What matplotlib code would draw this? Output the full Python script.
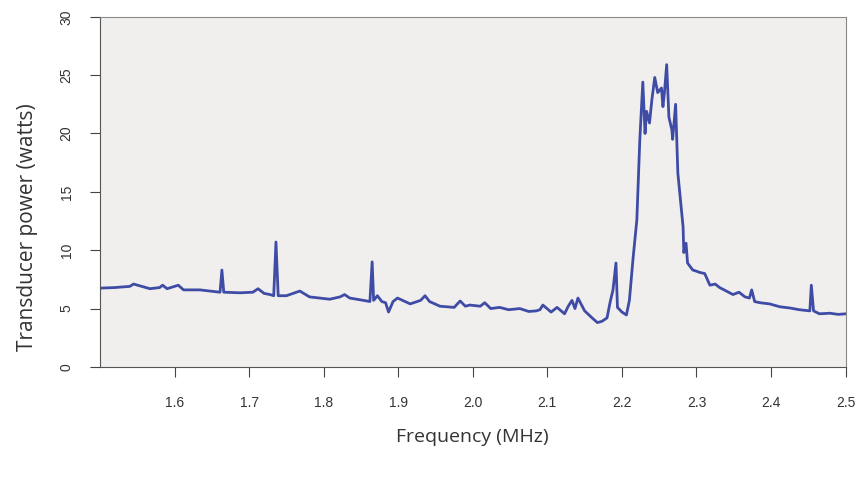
import matplotlib
matplotlib.use("Agg")
import matplotlib.pyplot as plt

# spectrum
freq = [1.500, 1.520, 1.540, 1.545, 1.567, 1.580, 1.584, 1.590, 1.605, 1.612, 1.634,
        1.654, 1.661, 1.6635, 1.666, 1.688, 1.705, 1.712, 1.720, 1.728,
        1.733, 1.736, 1.739, 1.750, 1.768, 1.781, 1.808, 1.822, 1.828, 1.835, 1.849,
        1.862, 1.865, 1.867, 1.872, 1.878, 1.883, 1.887, 1.893, 1.899, 1.916, 1.930,
        1.936, 1.942, 1.956, 1.975, 1.983, 1.990, 1.996, 2.010, 2.016, 2.024, 2.036,
        2.048, 2.063, 2.075, 2.085, 2.090, 2.094, 2.105, 2.113, 2.123, 2.128, 2.133,
        2.137, 2.141, 2.150, 2.160, 2.167, 2.173, 2.180, 2.184, 2.188, 2.192, 2.194,
        2.200, 2.206, 2.210, 2.215, 2.220, 2.224, 2.228, 2.231, 2.233, 2.237, 2.240,
        2.244, 2.248, 2.253, 2.255, 2.257, 2.260, 2.263, 2.267, 2.268, 2.272, 2.275,
        2.282, 2.283, 2.286, 2.288, 2.295, 2.300, 2.304, 2.311, 2.318, 2.325, 2.331,
        2.340, 2.349, 2.357, 2.365, 2.371, 2.374, 2.378, 2.385, 2.398, 2.412, 2.425,
        2.438, 2.452, 2.454, 2.457, 2.465, 2.479, 2.490, 2.500]
power = [6.75, 6.8, 6.9, 7.1, 6.7, 6.8, 7.0, 6.7, 7.0, 6.6, 6.6,
         6.45, 6.4, 8.3, 6.4, 6.35, 6.4, 6.7, 6.3, 6.2,
         6.1, 10.7, 6.1, 6.1, 6.5, 6.0, 5.8, 6.0, 6.2, 5.9, 5.75,
         5.6, 9.0, 5.7, 6.1, 5.6, 5.5, 4.7, 5.6, 5.9, 5.4, 5.7,
         6.1, 5.6, 5.2, 5.1, 5.65, 5.2, 5.3, 5.2, 5.5, 5.0, 5.1,
         4.9, 5.0, 4.75, 4.8, 4.9, 5.3, 4.7, 5.1, 4.55, 5.2, 5.7,
         5.0, 5.9, 4.8, 4.2, 3.8, 3.9, 4.2, 5.5, 6.6, 8.9, 5.1,
         4.7, 4.45, 5.7, 9.35, 12.6, 19.5, 24.4, 20.0, 21.9, 20.9, 22.8,
         24.8, 23.5, 23.9, 22.3, 23.5, 25.9, 21.4, 20.3, 19.5, 22.5, 16.6,
         12.0, 9.8, 10.6, 8.9, 8.3, 8.2, 8.1, 8.0, 7.0, 7.1, 6.8,
         6.5, 6.2, 6.4, 6.0, 5.9, 6.6, 5.6, 5.5, 5.4, 5.15, 5.05,
         4.9, 4.8, 7.0, 4.8, 4.55, 4.6, 4.5, 4.55]

xticks = [1.6, 1.7, 1.8, 1.9, 2.0, 2.1, 2.2, 2.3, 2.4, 2.5]
yticks = [0, 5, 10, 15, 20, 25, 30]

fig = plt.figure(figsize=(8.62, 4.79), dpi=100)
ax = fig.add_axes([0.116, 0.234, 0.865, 0.731])
ax.set_facecolor('#f1efed')

ax.plot(freq, power, color='#3f4ca6', linewidth=2.0)

ax.set_xlim(1.5, 2.5)
ax.set_ylim(0, 30)
ax.set_xticks(xticks)
ax.set_xticklabels([f'{t:.1f}' for t in xticks], fontsize=10, color='#333333',
                   family='Liberation Sans')
ax.set_yticks(yticks)
ax.set_yticklabels([str(t) for t in yticks], fontsize=10, color='#333333',
                   family='Liberation Sans', rotation=90, va='center')
ax.tick_params(axis='both', direction='out', length=7, width=0.8, color='#444444')
ax.tick_params(axis='x', pad=14)
ax.tick_params(axis='y', pad=12)

for s in ax.spines.values():
    s.set_color('#888888')
    s.set_linewidth(0.8)
ax.spines['left'].set_color('#555555')
ax.spines['bottom'].set_color('#555555')

ax.set_xlabel('Frequency (MHz)', fontsize=14, family='Open Sans', color='#333333', labelpad=13)
ax.set_ylabel('Transducer power (watts)', fontsize=15, family='Open Sans', color='#333333')
ax.yaxis.set_label_coords(-0.083, 0.4)

fig.savefig('out.png', dpi=100)
